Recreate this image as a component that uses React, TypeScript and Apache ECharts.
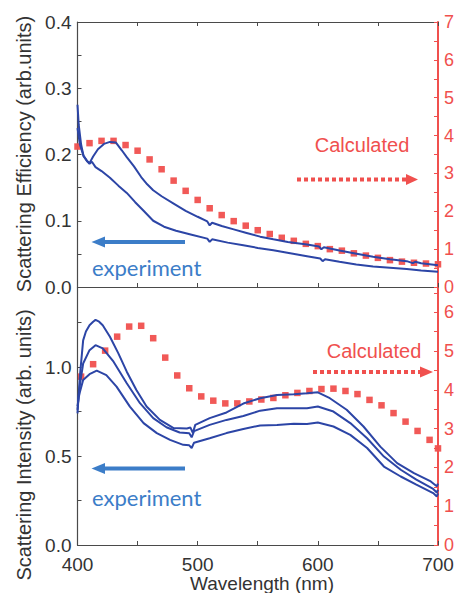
import React, { useEffect, useRef } from "react";
import * as echarts from "echarts";

// ---------- data ----------
// Top panel: experiment (left axis, scattering efficiency)
const expTopAWl = [400, 401, 403, 405, 408, 410, 413, 417, 422, 427, 432, 437, 441, 447, 453, 458, 463, 470, 480, 490, 500, 508, 510, 512, 520, 530, 540, 552, 563, 575, 591, 601, 603, 605, 618, 630, 646, 660, 674, 679, 681, 686, 700];
const expTopA = [0.275, 0.245, 0.215, 0.198, 0.19, 0.187, 0.197, 0.208, 0.216, 0.219, 0.218, 0.206, 0.196, 0.182, 0.166, 0.155, 0.146, 0.137, 0.126, 0.115, 0.106, 0.099, 0.093, 0.097, 0.092, 0.087, 0.082, 0.076, 0.072, 0.068, 0.064, 0.061, 0.057, 0.06, 0.055, 0.051, 0.0455, 0.042, 0.039, 0.036, 0.038, 0.036, 0.033];
const expTopBWl = [400, 402, 405, 408, 410, 412, 415, 420, 427, 434, 441, 448, 455, 463, 472, 482, 495, 508, 510, 512, 525, 538, 550, 563, 577, 591, 602, 604, 606, 618, 632, 646, 660, 674, 686, 700];
const expTopB = [0.24, 0.215, 0.198, 0.19, 0.186, 0.189, 0.181, 0.175, 0.165, 0.153, 0.142, 0.128, 0.115, 0.1, 0.091, 0.085, 0.079, 0.073, 0.068, 0.072, 0.067, 0.063, 0.059, 0.0555, 0.051, 0.0465, 0.043, 0.039, 0.042, 0.038, 0.034, 0.031, 0.029, 0.027, 0.025, 0.023];
// Top panel: calculated (right axis)
const calcTopWl = [400, 410, 420, 430, 440, 450, 460, 470, 480, 490, 500, 510, 520, 530, 540, 550, 560, 570, 580, 590, 600, 610, 620, 630, 640, 650, 660, 670, 680, 690, 700];
const calcTop = [3.71, 3.8, 3.86, 3.86, 3.75, 3.6, 3.37, 3.11, 2.81, 2.54, 2.3, 2.08, 1.9, 1.74, 1.62, 1.5, 1.4, 1.3, 1.22, 1.14, 1.08, 1.0, 0.96, 0.89, 0.83, 0.77, 0.71, 0.67, 0.64, 0.62, 0.6];

// Bottom panel: experiment (left axis, scattering intensity)
const expBot1Wl = [400, 401, 402, 404.7, 407, 410, 413, 415, 418, 421, 427, 434, 441, 449, 457.5, 468.6, 480, 491, 494, 496, 498, 510, 524, 538, 552, 566, 580, 591, 600, 610, 624, 638, 652, 666, 680, 694, 699, 700];
const expBot1 = [0.74, 0.85, 0.95, 1.15, 1.2, 1.235, 1.255, 1.265, 1.255, 1.235, 1.17, 1.077, 0.974, 0.871, 0.778, 0.703, 0.657, 0.655, 0.66, 0.63, 0.675, 0.713, 0.745, 0.795, 0.825, 0.843, 0.847, 0.853, 0.858, 0.825, 0.76, 0.666, 0.553, 0.46, 0.404, 0.357, 0.33, 0.345];
const expBot2Wl = [400, 401, 402, 404.7, 410, 415, 421, 430, 441, 452, 463, 474, 485, 493, 495, 497, 510, 524, 538, 552, 566, 580, 591, 600, 613, 627, 641, 655, 669, 682, 696, 699, 700];
const expBot2 = [0.76, 0.84, 0.9, 1.02, 1.095, 1.123, 1.105, 1.03, 0.909, 0.797, 0.713, 0.662, 0.632, 0.628, 0.605, 0.64, 0.675, 0.703, 0.725, 0.755, 0.769, 0.769, 0.769, 0.778, 0.75, 0.685, 0.6, 0.497, 0.423, 0.367, 0.315, 0.295, 0.31];
const expBot3Wl = [400, 401, 402, 404.7, 410, 416, 424, 432.5, 443.6, 455, 466, 477, 488, 493, 495, 497, 510, 524, 538, 552, 566, 580, 591, 600, 613, 627, 641, 655, 669, 682, 696, 699, 700];
const expBot3 = [0.78, 0.83, 0.86, 0.927, 0.96, 0.98, 0.955, 0.89, 0.778, 0.685, 0.629, 0.591, 0.563, 0.56, 0.545, 0.575, 0.6, 0.629, 0.652, 0.672, 0.675, 0.682, 0.68, 0.688, 0.666, 0.619, 0.545, 0.441, 0.385, 0.339, 0.292, 0.273, 0.29];
// Bottom panel: calculated (right axis)
const calcBotWl = [403, 413, 423, 433, 443, 453, 463, 473, 483, 493, 503, 513, 523, 533, 543, 553, 563, 573, 583, 593, 603, 613, 623, 633, 643, 653, 663, 673, 683, 693, 700];
const calcBot = [4.34, 4.66, 5.01, 5.37, 5.63, 5.65, 5.33, 4.83, 4.37, 4.04, 3.83, 3.72, 3.65, 3.65, 3.7, 3.75, 3.79, 3.86, 3.92, 3.97, 4.02, 4.03, 3.97, 3.89, 3.74, 3.6, 3.4, 3.18, 2.94, 2.71, 2.49];

// Axis texts
const xAxisName = "Wavelength (nm)";
const yTopName = "Scattering Efficiency (arb.units)";
const yBotName = "Scattering Intensity (arb. units)";
const calcLabel = "Calculated";
const expLabel = "experiment";

const zip = (xs: number[], ys: number[]) => xs.map((x, i) => [x, ys[i]]);

const GRAY = "#4a4a4a";
const RED = "#f0504e";
const BLUE = "#2c45a6";
const LBLUE = "#3c7dc8";
const FONT = "Liberation Sans, Arial, sans-serif";

export default function App() {
  const ref = useRef<HTMLDivElement>(null);
  useEffect(() => {
    document.body.style.margin = "0";
    const chart = echarts.init(ref.current!, null, { renderer: "svg" });
    const L = 77.5, R = 18.5;
    const xCommon = (gridIndex: number, position: string, showLabel: boolean) => ({
      type: "value",
      gridIndex,
      position,
      min: 400,
      max: 700,
      interval: 50,
      axisLine: { show: true, onZero: false, lineStyle: { color: GRAY, width: 1.2 } },
      axisTick: { show: true, inside: true, length: 4, lineStyle: { color: GRAY } },
      splitLine: { show: false },
      axisLabel: {
        show: showLabel,
        margin: 9.5,
        color: "#333",
        fontSize: 19,
        fontFamily: FONT,
        formatter: (v: number) => (v % 100 === 0 ? String(v) : ""),
      },
    });
    const yCommon = (gridIndex: number, position: string, min: number, max: number, interval: number, color: string, labelColor: string, fmt: (v: number) => string) => ({
      type: "value",
      gridIndex,
      position,
      min,
      max,
      interval,
      axisLine: { show: true, onZero: false, lineStyle: { color, width: position === "right" ? 2 : 1.2 } },
      axisTick: { show: true, inside: true, length: 4, lineStyle: { color } },
      minorTick: { show: true, splitNumber: 2, length: 4, lineStyle: { color } },
      splitLine: { show: false },
      axisLabel: { margin: 6, color: labelColor, fontSize: position === "right" ? 18 : 19, fontFamily: FONT, formatter: fmt },
    });
    const fmt1 = (step: number) => (v: number) => {
      const k = v / step;
      return Math.abs(k - Math.round(k)) < 1e-6 ? v.toFixed(1) : "";
    };
    const fmt0 = (v: number) => (Math.abs(v - Math.round(v)) < 1e-6 ? String(Math.round(v)) : "");

    const lineSeries = (name: string, xi: number, yi: number, data: number[][]) => ({
      name,
      type: "line",
      xAxisIndex: xi,
      yAxisIndex: yi,
      data,
      showSymbol: false,
      symbol: "none",
      lineStyle: { color: BLUE, width: 2 },
      z: 3,
    });
    const scatterSeries = (name: string, xi: number, yi: number, data: number[][]) => ({
      name,
      type: "scatter",
      xAxisIndex: xi,
      yAxisIndex: yi,
      data,
      symbol: "rect",
      symbolSize: 6.5,
      itemStyle: { color: RED, opacity: 0.95 },
      z: 2,
    });

    const dotted = (x1: number, x2: number, y: number) => ({
      type: "line",
      shape: { x1, y1: y, x2, y2: y },
      style: { stroke: RED, lineWidth: 4, lineDash: [4, 3] },
    });
    const head = (pts: number[][], fill: string) => ({ type: "polygon", shape: { points: pts }, style: { fill } });

    chart.setOption({
      animation: false,
      grid: [
        { left: L, right: R, top: 22, height: 265 },
        { left: L, right: R, top: 287, height: 258 },
      ],
      xAxis: [xCommon(0, "bottom", false), xCommon(0, "top", false), xCommon(1, "bottom", true)],
      yAxis: [
        yCommon(0, "left", 0, 0.4, 0.1, GRAY, "#333", fmt1(0.1)),
        yCommon(0, "right", 0, 7, 1, RED, RED, fmt0),
        yCommon(1, "left", 0, 1.45, 0.5, GRAY, "#333", fmt1(0.5)),
        yCommon(1, "right", 0, 6.65, 1, RED, RED, fmt0),
      ],
      series: [
        scatterSeries("calc-top", 0, 1, zip(calcTopWl, calcTop)),
        lineSeries("exp-top-a", 0, 0, zip(expTopAWl, expTopA)),
        lineSeries("exp-top-b", 0, 0, zip(expTopBWl, expTopB)),
        scatterSeries("calc-bot", 2, 3, zip(calcBotWl, calcBot)),
        lineSeries("exp-bot-1", 2, 2, zip(expBot1Wl, expBot1)),
        lineSeries("exp-bot-2", 2, 2, zip(expBot2Wl, expBot2)),
        lineSeries("exp-bot-3", 2, 2, zip(expBot3Wl, expBot3)),
      ],
      graphic: {
        elements: [
          {
            type: "text", x: 24, y: 154, rotation: Math.PI / 2,
            style: { text: yTopName, fill: "#333", fontSize: 20, fontFamily: FONT, align: "center", verticalAlign: "middle" },
          },
          {
            type: "text", x: 24, y: 445, rotation: Math.PI / 2,
            style: { text: yBotName, fill: "#333", fontSize: 20, fontFamily: FONT, align: "center", verticalAlign: "middle" },
          },
          {
            type: "text", x: 262, y: 583,
            style: { text: xAxisName, fill: "#333", fontSize: 19, fontFamily: FONT, align: "center", verticalAlign: "middle" },
          },
          // top annotations
          {
            type: "text", x: 362, y: 145,
            style: { text: calcLabel, fill: RED, fontSize: 20, fontFamily: FONT, align: "center", verticalAlign: "middle" },
          },
          dotted(297, 407, 179.5),
          head([[418, 179.5], [406, 174], [406, 185]], RED),
          { type: "line", shape: { x1: 185, y1: 242, x2: 102, y2: 242 }, style: { stroke: LBLUE, lineWidth: 4 } },
          head([[91.5, 242], [105, 236.5], [105, 247.5]], LBLUE),
          {
            type: "text", x: 92, y: 267,
            style: { text: expLabel, fill: LBLUE, fontSize: 22, fontFamily: "Lato, Open Sans, sans-serif", align: "left", verticalAlign: "middle" },
          },
          // bottom annotations
          {
            type: "text", x: 374, y: 351,
            style: { text: calcLabel, fill: RED, fontSize: 20, fontFamily: FONT, align: "center", verticalAlign: "middle" },
          },
          dotted(313, 420, 372),
          head([[433, 372], [420, 366.5], [420, 377.5]], RED),
          { type: "line", shape: { x1: 185, y1: 468.5, x2: 102, y2: 468.5 }, style: { stroke: LBLUE, lineWidth: 4 } },
          head([[91.5, 468.5], [105, 463], [105, 474]], LBLUE),
          {
            type: "text", x: 92, y: 497,
            style: { text: expLabel, fill: LBLUE, fontSize: 22, fontFamily: "Lato, Open Sans, sans-serif", align: "left", verticalAlign: "middle" },
          },
        ],
      },
    });
    return () => chart.dispose();
  }, []);
  return <div ref={ref} style={{ width: 457, height: 593 }} />;
}
